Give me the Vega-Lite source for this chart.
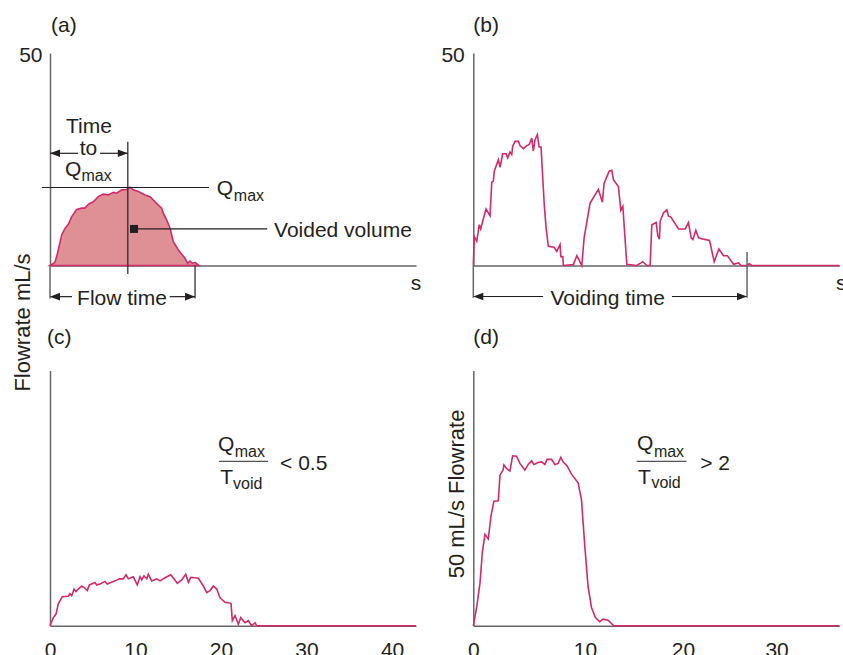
{
  "$schema": "https://vega.github.io/schema/vega-lite/v6.json",
  "padding": {"left": 11, "top": 14, "right": 0, "bottom": 0},
  "config": {
    "font": "Liberation Sans",
    "view": {"stroke": null},
    "axis": {"domainColor": "#666666", "domainWidth": 1.5, "ticks": false, "grid": false, "labelFontSize": 21, "labelColor": "#231f20", "labelFont": "Liberation Sans", "titleFont": "Liberation Sans", "titleFontSize": 22, "titleFontWeight": "normal", "titleColor": "#231f20"},
    "title": {"font": "Liberation Sans", "fontSize": 21, "fontWeight": "normal", "color": "#231f20"},
    "text": {"font": "Liberation Sans", "color": "#231f20"}
  },
  "datasets": {
    "curveA": [
      {"t": 0, "v": 0}, {"t": 0.58, "v": 0.75}, {"t": 0.78, "v": 2.1}, {"t": 1.05, "v": 4.4}, {"t": 1.37, "v": 7.2}, {"t": 1.75, "v": 8.75}, {"t": 2.14, "v": 9.7}, {"t": 2.54, "v": 11.5}, {"t": 3.12, "v": 13.2}, {"t": 3.71, "v": 13.5}, {"t": 4.09, "v": 13.5}, {"t": 4.48, "v": 14.4}, {"t": 5.06, "v": 15.0}, {"t": 5.65, "v": 16.2}, {"t": 6.23, "v": 16.8}, {"t": 6.82, "v": 16.6}, {"t": 7.4, "v": 17.2}, {"t": 7.8, "v": 17.0}, {"t": 8.39, "v": 17.8}, {"t": 8.97, "v": 17.9}, {"t": 9.36, "v": 18.4}, {"t": 9.74, "v": 17.8}, {"t": 10.33, "v": 17.4}, {"t": 11.11, "v": 16.6}, {"t": 11.7, "v": 16.2}, {"t": 12.08, "v": 15.4}, {"t": 12.67, "v": 14.2}, {"t": 13.06, "v": 13.5}, {"t": 13.25, "v": 12.3}, {"t": 13.65, "v": 10.7}, {"t": 14.04, "v": 8.75}, {"t": 14.42, "v": 5.6}, {"t": 15.01, "v": 3.65}, {"t": 15.79, "v": 1.7}, {"t": 16.1, "v": 0.5}, {"t": 16.37, "v": 1.05}, {"t": 16.64, "v": 0.5}, {"t": 16.96, "v": 0.75}, {"t": 17.43, "v": 0}
    ],
    "curveB": [
      {"t": 0, "v": 0}, {"t": 0.1, "v": 6.8}, {"t": 0.34, "v": 5.7}, {"t": 0.59, "v": 9.6}, {"t": 0.73, "v": 8.6}, {"t": 1.25, "v": 13.3}, {"t": 1.65, "v": 11.7}, {"t": 1.82, "v": 19.6}, {"t": 1.97, "v": 19.8}, {"t": 2.07, "v": 22.2}, {"t": 2.47, "v": 24.9}, {"t": 2.64, "v": 23.1}, {"t": 2.9, "v": 26.3}, {"t": 3.23, "v": 26.3}, {"t": 3.4, "v": 25.3}, {"t": 3.62, "v": 26.7}, {"t": 3.79, "v": 26.1}, {"t": 3.89, "v": 28.1}, {"t": 4.12, "v": 29.2}, {"t": 4.44, "v": 29.2}, {"t": 4.61, "v": 28.2}, {"t": 4.94, "v": 27.5}, {"t": 5.27, "v": 28.2}, {"t": 5.53, "v": 28.5}, {"t": 5.77, "v": 30.0}, {"t": 5.92, "v": 26.9}, {"t": 6.09, "v": 29.6}, {"t": 6.32, "v": 30.8}, {"t": 6.49, "v": 27.9}, {"t": 6.68, "v": 27.9}, {"t": 7.01, "v": 13.9}, {"t": 7.18, "v": 8.8}, {"t": 7.4, "v": 4.5}, {"t": 7.97, "v": 4.3}, {"t": 8.23, "v": 3.3}, {"t": 8.56, "v": 4.9}, {"t": 8.63, "v": 2.1}, {"t": 8.83, "v": 2.1}, {"t": 8.88, "v": 0}, {"t": 9.87, "v": 0.2}, {"t": 10.21, "v": 2.3}, {"t": 10.43, "v": 1.3}, {"t": 10.7, "v": 0}, {"t": 10.93, "v": 6.5}, {"t": 11.52, "v": 14.7}, {"t": 12.34, "v": 17.9}, {"t": 12.73, "v": 14.9}, {"t": 12.9, "v": 19.3}, {"t": 13.4, "v": 22.2}, {"t": 13.66, "v": 22.4}, {"t": 13.82, "v": 20.2}, {"t": 14.31, "v": 18.6}, {"t": 14.55, "v": 13.0}, {"t": 14.75, "v": 13.9}, {"t": 15.14, "v": 0.3}, {"t": 16.13, "v": 0}, {"t": 16.72, "v": 0.9}, {"t": 17.12, "v": 0}, {"t": 17.44, "v": 0}, {"t": 17.61, "v": 9.6}, {"t": 18.04, "v": 10.1}, {"t": 18.2, "v": 7.0}, {"t": 18.36, "v": 6.2}, {"t": 18.43, "v": 10.4}, {"t": 18.76, "v": 12.4}, {"t": 19.09, "v": 13.1}, {"t": 19.25, "v": 11.6}, {"t": 19.49, "v": 11.4}, {"t": 20.24, "v": 8.6}, {"t": 20.9, "v": 8.6}, {"t": 21.22, "v": 10.1}, {"t": 21.49, "v": 6.5}, {"t": 21.66, "v": 6.1}, {"t": 21.95, "v": 8.3}, {"t": 22.21, "v": 6.5}, {"t": 22.7, "v": 6.2}, {"t": 23.3, "v": 5.9}, {"t": 23.76, "v": 0.9}, {"t": 24.22, "v": 3.9}, {"t": 24.68, "v": 2.3}, {"t": 25.07, "v": 2.3}, {"t": 25.67, "v": 0.3}, {"t": 26.16, "v": 0.6}, {"t": 26.4, "v": 0}, {"t": 26.99, "v": 0}, {"t": 27.21, "v": 0.4}, {"t": 27.48, "v": 0}, {"t": 36.1, "v": 0}
    ],
    "curveC": [
      {"t": 0, "v": 0}, {"t": 0.39, "v": 1.6}, {"t": 0.7, "v": 2.3}, {"t": 0.97, "v": 4.3}, {"t": 1.44, "v": 5.7}, {"t": 2.14, "v": 5.8}, {"t": 2.34, "v": 6.3}, {"t": 2.54, "v": 5.9}, {"t": 2.81, "v": 7.2}, {"t": 3.04, "v": 6.7}, {"t": 3.31, "v": 7.2}, {"t": 3.71, "v": 7.8}, {"t": 3.98, "v": 7.5}, {"t": 4.36, "v": 6.9}, {"t": 4.6, "v": 8.0}, {"t": 5.26, "v": 8.5}, {"t": 5.46, "v": 8.0}, {"t": 5.85, "v": 8.2}, {"t": 6.43, "v": 8.7}, {"t": 6.7, "v": 8.2}, {"t": 7.6, "v": 8.8}, {"t": 8.11, "v": 9.2}, {"t": 8.57, "v": 9.2}, {"t": 8.89, "v": 10.0}, {"t": 9.16, "v": 9.2}, {"t": 9.74, "v": 9.6}, {"t": 10.21, "v": 8.0}, {"t": 10.53, "v": 9.6}, {"t": 10.73, "v": 9.0}, {"t": 10.99, "v": 9.8}, {"t": 11.31, "v": 9.2}, {"t": 11.5, "v": 10.1}, {"t": 11.89, "v": 8.8}, {"t": 12.48, "v": 9.2}, {"t": 12.87, "v": 8.8}, {"t": 13.45, "v": 9.4}, {"t": 14.12, "v": 10.0}, {"t": 14.5, "v": 9.2}, {"t": 14.89, "v": 8.3}, {"t": 15.4, "v": 9.0}, {"t": 15.87, "v": 10.1}, {"t": 16.18, "v": 8.5}, {"t": 16.46, "v": 9.5}, {"t": 17.35, "v": 9.3}, {"t": 17.93, "v": 7.8}, {"t": 18.33, "v": 6.5}, {"t": 18.71, "v": 6.9}, {"t": 19.1, "v": 7.8}, {"t": 19.5, "v": 7.2}, {"t": 19.88, "v": 5.5}, {"t": 20.47, "v": 4.6}, {"t": 21.17, "v": 4.4}, {"t": 21.32, "v": 1.0}, {"t": 21.64, "v": 2.0}, {"t": 22.02, "v": 0.3}, {"t": 22.3, "v": 1.6}, {"t": 22.81, "v": 0.6}, {"t": 23.19, "v": 1.0}, {"t": 23.59, "v": 0}, {"t": 23.98, "v": 0.6}, {"t": 24.17, "v": 0}, {"t": 42.8, "v": 0}
    ],
    "curveD": [
      {"t": 0, "v": 0}, {"t": 0.218, "v": 3.7}, {"t": 0.452, "v": 8.3}, {"t": 0.628, "v": 14.3}, {"t": 0.833, "v": 17.9}, {"t": 1.099, "v": 17.0}, {"t": 1.321, "v": 21.5}, {"t": 1.563, "v": 24.4}, {"t": 1.929, "v": 24.5}, {"t": 2.076, "v": 29.5}, {"t": 2.354, "v": 30.6}, {"t": 2.415, "v": 31.5}, {"t": 2.652, "v": 30.8}, {"t": 2.936, "v": 30.3}, {"t": 3.178, "v": 33.3}, {"t": 3.53, "v": 33.2}, {"t": 3.83, "v": 31.8}, {"t": 4.279, "v": 30.5}, {"t": 4.585, "v": 31.6}, {"t": 4.902, "v": 32.3}, {"t": 5.107, "v": 31.6}, {"t": 5.512, "v": 32.0}, {"t": 5.823, "v": 32.1}, {"t": 6.137, "v": 31.6}, {"t": 6.347, "v": 32.6}, {"t": 6.769, "v": 32.6}, {"t": 7.086, "v": 31.6}, {"t": 7.396, "v": 31.8}, {"t": 7.657, "v": 33.0}, {"t": 7.872, "v": 32.1}, {"t": 8.262, "v": 31.3}, {"t": 8.684, "v": 29.7}, {"t": 9.334, "v": 28.0}, {"t": 9.661, "v": 24.7}, {"t": 9.99, "v": 15.6}, {"t": 10.309, "v": 7.7}, {"t": 10.649, "v": 3.6}, {"t": 11.04, "v": 1.6}, {"t": 11.472, "v": 0.8}, {"t": 11.794, "v": 1.3}, {"t": 12.302, "v": 1.1}, {"t": 12.869, "v": 0}, {"t": 36.88, "v": 0}
    ],
    "segs": [
      {"p": "a", "k": "dark", "t": 9.1, "t2": 9.1, "v": 29.1, "v2": -2.0},
      {"p": "a", "k": "dark", "t": -0.94, "t2": 18.6, "v": 18.35, "v2": 18.35},
      {"p": "a", "k": "dark", "t": 0, "t2": 3.27, "v": 26.4, "v2": 26.4},
      {"p": "a", "k": "dark", "t": 5.85, "t2": 9.1, "v": 26.4, "v2": 26.4},
      {"p": "a", "k": "dark", "t": 9.82, "t2": 25.4, "v": 8.6, "v2": 8.6},
      {"p": "a", "k": "dark", "t": 16.96, "t2": 16.96, "v": 0, "v2": -7.76},
      {"p": "a", "k": "gray", "t": 0, "t2": 0, "v": 0, "v2": -7.76},
      {"p": "a", "k": "dark", "t": 0, "t2": 2.57, "v": -7.33, "v2": -7.33},
      {"p": "a", "k": "dark", "t": 14.0, "t2": 16.96, "v": -7.33, "v2": -7.33},
      {"p": "b", "k": "gray", "t": 0, "t2": 0, "v": 0, "v2": -7.6},
      {"p": "b", "k": "gray", "t": 27.0, "t2": 27.0, "v": 3.2, "v2": -7.6},
      {"p": "b", "k": "dark", "t": 0, "t2": 6.88, "v": -7.29, "v2": -7.29},
      {"p": "b", "k": "dark", "t": 19.59, "t2": 27.0, "v": -7.29, "v2": -7.29},
      {"p": "c", "k": "gray", "t": 19.77, "t2": 25.5, "v": 32.2, "v2": 32.2},
      {"p": "d", "k": "gray", "t": 15.2, "t2": 20.37, "v": 32.2, "v2": 32.2}
    ],
    "arrows": [
      {"p": "a", "t": 0, "v": 26.4, "dir": "L"},
      {"p": "a", "t": 9.1, "v": 26.4, "dir": "R"},
      {"p": "a", "t": 0, "v": -7.33, "dir": "L"},
      {"p": "a", "t": 16.96, "v": -7.33, "dir": "R"},
      {"p": "b", "t": 0, "v": -7.29, "dir": "L"},
      {"p": "b", "t": 27.0, "v": -7.29, "dir": "R"}
    ],
    "boxes": [
      {"p": "a", "t": 9.82, "v": 8.6}
    ],
    "textsL": [
      {"p": "a", "t": 19.5, "v": 16.5, "txt": "Q"},
      {"p": "a", "t": 26.2, "v": 6.78, "txt": "Voided volume"},
      {"p": "a", "t": 1.75, "v": 21.06, "txt": "Q"},
      {"p": "c", "t": 19.65, "v": 34.3, "txt": "Q"},
      {"p": "c", "t": 19.9, "v": 27.8, "txt": "T"},
      {"p": "c", "t": 26.9, "v": 30.6, "txt": "< 0.5"},
      {"p": "d", "t": 15.23, "v": 34.4, "txt": "Q"},
      {"p": "d", "t": 15.33, "v": 27.85, "txt": "T"},
      {"p": "d", "t": 21.81, "v": 30.5, "txt": "> 2"}
    ],
    "textsC": [
      {"p": "a", "t": 4.56, "v": 31.1, "txt": "Time"},
      {"p": "a", "t": 4.5, "v": 26.0, "txt": "to"},
      {"p": "a", "t": 8.42, "v": -9.29, "txt": "Flow time"},
      {"p": "a", "t": 42.8, "v": -5.76, "txt": "s"},
      {"p": "b", "t": 13.25, "v": -9.24, "txt": "Voiding time"},
      {"p": "b", "t": 36.3, "v": -5.7, "txt": "s"}
    ],
    "subs": [
      {"p": "a", "t": 21.5, "v": 15.06, "txt": "max"},
      {"p": "a", "t": 3.68, "v": 19.9, "txt": "max"},
      {"p": "c", "t": 21.6, "v": 33.0, "txt": "max"},
      {"p": "c", "t": 21.4, "v": 26.8, "txt": "void"},
      {"p": "d", "t": 16.97, "v": 33.0, "txt": "max"},
      {"p": "d", "t": 16.71, "v": 26.9, "txt": "void"}
    ]
  },
  "columns": 2,
  "align": "each",
  "bounds": "flush",
  "spacing": {"row": 104.5, "column": 57.3},
  "concat": [
    {
      "width": 366,
      "height": 212.5,
      "title": {"text": "(a)", "frame": "group", "anchor": "start", "baseline": "alphabetic", "offset": -8, "dx": 1},
      "encoding": {
        "x": {"field": "t", "type": "quantitative", "scale": {"domain": [0, 42.8], "nice": false, "zero": false}, "axis": {"labels": false, "title": null}},
        "y": {"field": "v", "type": "quantitative", "scale": {"domain": [0, 50], "nice": false}, "axis": {"values": [50], "labelPadding": 8, "labelOffset": 2.5, "title": "Flowrate mL/s", "titleX": -21, "titleY": 269, "titleAngle": 270, "titleAlign": "center", "titleBaseline": "alphabetic"}}
      },
      "layer": [
        {"data": {"name": "curveA"}, "mark": {"type": "area", "fill": "#DE9095", "stroke": "#D42A6B", "strokeWidth": 1.6}},
        {"data": {"name": "segs"}, "transform": [{"filter": "datum.p === 'a' && datum.k === 'dark'"}], "mark": {"type": "rule", "color": "#231f20", "strokeWidth": 1.2}, "encoding": {"x2": {"field": "t2"}, "y2": {"field": "v2"}}},
        {"data": {"name": "segs"}, "transform": [{"filter": "datum.p === 'a' && datum.k === 'gray'"}], "mark": {"type": "rule", "color": "#666666", "strokeWidth": 1.5}, "encoding": {"x2": {"field": "t2"}, "y2": {"field": "v2"}}},
        {"data": {"name": "arrows"}, "transform": [{"filter": "datum.p === 'a'"}], "mark": {"type": "point", "filled": true, "opacity": 1, "size": 400, "color": "#231f20", "strokeWidth": 0}, "encoding": {"shape": {"field": "dir", "type": "nominal", "scale": {"domain": ["L", "R"], "range": ["M0,0L1,-0.38L1,0.38Z", "M0,0L-1,-0.38L-1,0.38Z"]}, "legend": null}}},
        {"data": {"name": "boxes"}, "mark": {"type": "square", "filled": true, "opacity": 1, "size": 64, "color": "#231f20"}},
        {"data": {"name": "textsL"}, "transform": [{"filter": "datum.p === 'a'"}], "mark": {"type": "text", "align": "left", "baseline": "alphabetic", "fontSize": 21}, "encoding": {"text": {"field": "txt"}}},
        {"data": {"name": "textsC"}, "transform": [{"filter": "datum.p === 'a'"}], "mark": {"type": "text", "align": "center", "baseline": "alphabetic", "fontSize": 21}, "encoding": {"text": {"field": "txt"}}},
        {"data": {"name": "subs"}, "transform": [{"filter": "datum.p === 'a'"}], "mark": {"type": "text", "align": "left", "baseline": "alphabetic", "fontSize": 16}, "encoding": {"text": {"field": "txt"}}}
      ]
    },
    {
      "width": 366,
      "height": 212.5,
      "title": {"text": "(b)", "frame": "group", "anchor": "start", "baseline": "alphabetic", "offset": -8, "dx": 0},
      "encoding": {
        "x": {"field": "t", "type": "quantitative", "scale": {"domain": [0, 36.1], "nice": false, "zero": false}, "axis": {"labels": false, "title": null}},
        "y": {"field": "v", "type": "quantitative", "scale": {"domain": [0, 50], "nice": false}, "axis": {"values": [50], "labelPadding": 9, "labelOffset": 2.5, "title": null}}
      },
      "layer": [
        {"data": {"name": "curveB"}, "mark": {"type": "line", "color": "#D42A6B", "strokeWidth": 1.6}},
        {"data": {"name": "segs"}, "transform": [{"filter": "datum.p === 'b' && datum.k === 'dark'"}], "mark": {"type": "rule", "color": "#231f20", "strokeWidth": 1.2}, "encoding": {"x2": {"field": "t2"}, "y2": {"field": "v2"}}},
        {"data": {"name": "segs"}, "transform": [{"filter": "datum.p === 'b' && datum.k === 'gray'"}], "mark": {"type": "rule", "color": "#666666", "strokeWidth": 1.5}, "encoding": {"x2": {"field": "t2"}, "y2": {"field": "v2"}}},
        {"data": {"name": "arrows"}, "transform": [{"filter": "datum.p === 'b'"}], "mark": {"type": "point", "filled": true, "opacity": 1, "size": 400, "color": "#231f20", "strokeWidth": 0}, "encoding": {"shape": {"field": "dir", "type": "nominal", "scale": {"domain": ["L", "R"], "range": ["M0,0L1,-0.38L1,0.38Z", "M0,0L-1,-0.38L-1,0.38Z"]}, "legend": null}}},
        {"data": {"name": "textsC"}, "transform": [{"filter": "datum.p === 'b'"}], "mark": {"type": "text", "align": "center", "baseline": "alphabetic", "fontSize": 21}, "encoding": {"text": {"field": "txt"}}}
      ]
    },
    {
      "width": 366,
      "height": 255.3,
      "title": {"text": "(c)", "frame": "group", "anchor": "start", "baseline": "alphabetic", "offset": 6, "dx": -3},
      "encoding": {
        "x": {"field": "t", "type": "quantitative", "scale": {"domain": [0, 42.8], "nice": false, "zero": false}, "axis": {"values": [0, 10, 20, 30, 40], "labelPadding": 14, "labelFlush": false, "title": null}},
        "y": {"field": "v", "type": "quantitative", "scale": {"domain": [0, 50], "nice": false}, "axis": {"labels": false, "title": null}}
      },
      "layer": [
        {"data": {"name": "curveC"}, "mark": {"type": "line", "color": "#D42A6B", "strokeWidth": 1.6}},
        {"data": {"name": "segs"}, "transform": [{"filter": "datum.p === 'c'"}], "mark": {"type": "rule", "color": "#555555", "strokeWidth": 1.3}, "encoding": {"x2": {"field": "t2"}, "y2": {"field": "v2"}}},
        {"data": {"name": "textsL"}, "transform": [{"filter": "datum.p === 'c'"}], "mark": {"type": "text", "align": "left", "baseline": "alphabetic", "fontSize": 21}, "encoding": {"text": {"field": "txt"}}},
        {"data": {"name": "subs"}, "transform": [{"filter": "datum.p === 'c'"}], "mark": {"type": "text", "align": "left", "baseline": "alphabetic", "fontSize": 16}, "encoding": {"text": {"field": "txt"}}}
      ]
    },
    {
      "width": 366,
      "height": 255.3,
      "title": {"text": "(d)", "frame": "group", "anchor": "start", "baseline": "alphabetic", "offset": 6, "dx": 0},
      "encoding": {
        "x": {"field": "t", "type": "quantitative", "scale": {"type": "pow", "exponent": 0.91, "domain": [0, 36.88], "nice": false, "zero": false}, "axis": {"values": [0, 10, 20, 30], "labelPadding": 14, "labelFlush": false, "title": null}},
        "y": {"field": "v", "type": "quantitative", "scale": {"domain": [0, 50], "nice": false}, "axis": {"labels": false, "title": "50 mL/s Flowrate", "titleX": -10.3, "titleY": 123, "titleAngle": 270, "titleAlign": "center", "titleBaseline": "alphabetic"}}
      },
      "layer": [
        {"data": {"name": "curveD"}, "mark": {"type": "line", "color": "#D42A6B", "strokeWidth": 1.6}},
        {"data": {"name": "segs"}, "transform": [{"filter": "datum.p === 'd'"}], "mark": {"type": "rule", "color": "#555555", "strokeWidth": 1.3}, "encoding": {"x2": {"field": "t2"}, "y2": {"field": "v2"}}},
        {"data": {"name": "textsL"}, "transform": [{"filter": "datum.p === 'd'"}], "mark": {"type": "text", "align": "left", "baseline": "alphabetic", "fontSize": 21}, "encoding": {"text": {"field": "txt"}}},
        {"data": {"name": "subs"}, "transform": [{"filter": "datum.p === 'd'"}], "mark": {"type": "text", "align": "left", "baseline": "alphabetic", "fontSize": 16}, "encoding": {"text": {"field": "txt"}}}
      ]
    }
  ]
}
